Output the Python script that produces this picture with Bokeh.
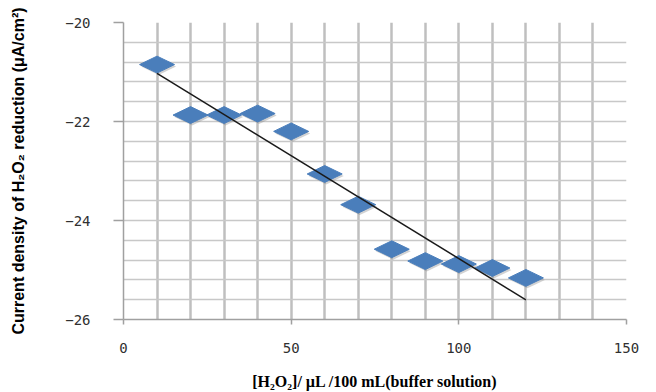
import numpy as np
from bokeh.plotting import figure
from bokeh.models import Range1d, SingleIntervalTicker
from bokeh.embed import file_html
from bokeh.resources import INLINE

# ---- data ----
conc = [10, 20, 30, 40, 50, 60, 70, 80, 90, 100, 110, 120]
current = [-20.85, -21.87, -21.87, -21.84, -22.20, -23.06,
           -23.68, -24.58, -24.82, -24.88, -24.96, -25.16]
x_ticks = [0, 50, 100, 150]
y_ticks = [-20, -22, -24, -26]

# ---- figure ----
W, H = 656, 392
p = figure(width=W, height=H, output_backend="svg", toolbar_location=None,
           x_range=Range1d(0, 150), y_range=Range1d(-26, -20),
           min_border_left=123, min_border_right=30,
           min_border_top=22, min_border_bottom=71)
p.background_fill_color = "white"
p.border_fill_color = "white"
p.outline_line_color = None

# grids
p.xgrid.ticker = SingleIntervalTicker(interval=10)
p.ygrid.ticker = SingleIntervalTicker(interval=0.4)
p.xgrid.grid_line_color = "#bfbfbf"
p.xgrid.grid_line_width = 2.5
p.ygrid.grid_line_color = "#c8c8c8"
p.ygrid.grid_line_width = 1.6

# axes
p.xaxis.ticker = x_ticks
p.yaxis.ticker = y_ticks
for ax in (p.xaxis[0], p.yaxis[0]):
    ax.axis_line_color = "#a0a0a0"
    ax.axis_line_width = 1.5
    ax.major_tick_line_color = "#a0a0a0"
    ax.major_tick_line_width = 1.5
    ax.minor_tick_line_color = None
    ax.major_tick_in = 0
    ax.major_label_text_font = "DejaVu Sans Mono"
    ax.major_label_text_font_size = "14px"
    ax.major_label_text_color = "#303030"
p.xaxis.major_tick_out = 5
p.xaxis.major_label_standoff = 18
p.yaxis.major_tick_out = 10
p.yaxis.major_label_standoff = 23

p.yaxis.axis_label = "Current density of H\u2082O\u2082 reduction (\u03bcA/cm\u00b2)"
p.yaxis.axis_label_text_font = "Liberation Sans"
p.yaxis.axis_label_text_font_style = "bold"
p.yaxis.axis_label_text_font_size = "16px"
p.yaxis.axis_label_text_color = "black"
p.yaxis.axis_label_standoff = 35

p.xaxis.axis_label = "[H\u2082O\u2082]/ \u00b5L /100 mL(buffer solution)"
p.xaxis.axis_label_text_font = "Liberation Serif"
p.xaxis.axis_label_text_font_style = "bold"
p.xaxis.axis_label_text_font_size = "16px"
p.xaxis.axis_label_text_color = "black"
p.xaxis.axis_label_standoff = 17

# ---- markers: wide diamonds ----
px_x = 150 / 503.0   # data units per pixel (x)
px_y = 6 / 299.0     # data units per pixel (y)
hw = 17.5 * px_x
hh = 8.5 * px_y

def diamonds(dx=0.0, dy=0.0):
    xs = [[x - hw + dx, x + dx, x + hw + dx, x + dx] for x in conc]
    ys = [[y + dy, y + hh + dy, y + dy, y - hh + dy] for y in current]
    return xs, ys

sx, sy = diamonds(1.5 * px_x, -2.0 * px_y)
p.patches(sx, sy, fill_color="#7f7f7f", fill_alpha=0.35, line_color=None)
dxs, dys = diamonds()
p.patches(dxs, dys, fill_color="#4a7ebb", line_color="#4a7ebb", line_width=1)

# ---- linear trend line ----
m, b = np.polyfit(conc, current, 1)
tx = [min(conc), max(conc)]
ty = [m * t + b for t in tx]
p.line(tx, ty, line_color="#1a1a1a", line_width=1.5)

open("out.html", "w").write(file_html(p, INLINE))
